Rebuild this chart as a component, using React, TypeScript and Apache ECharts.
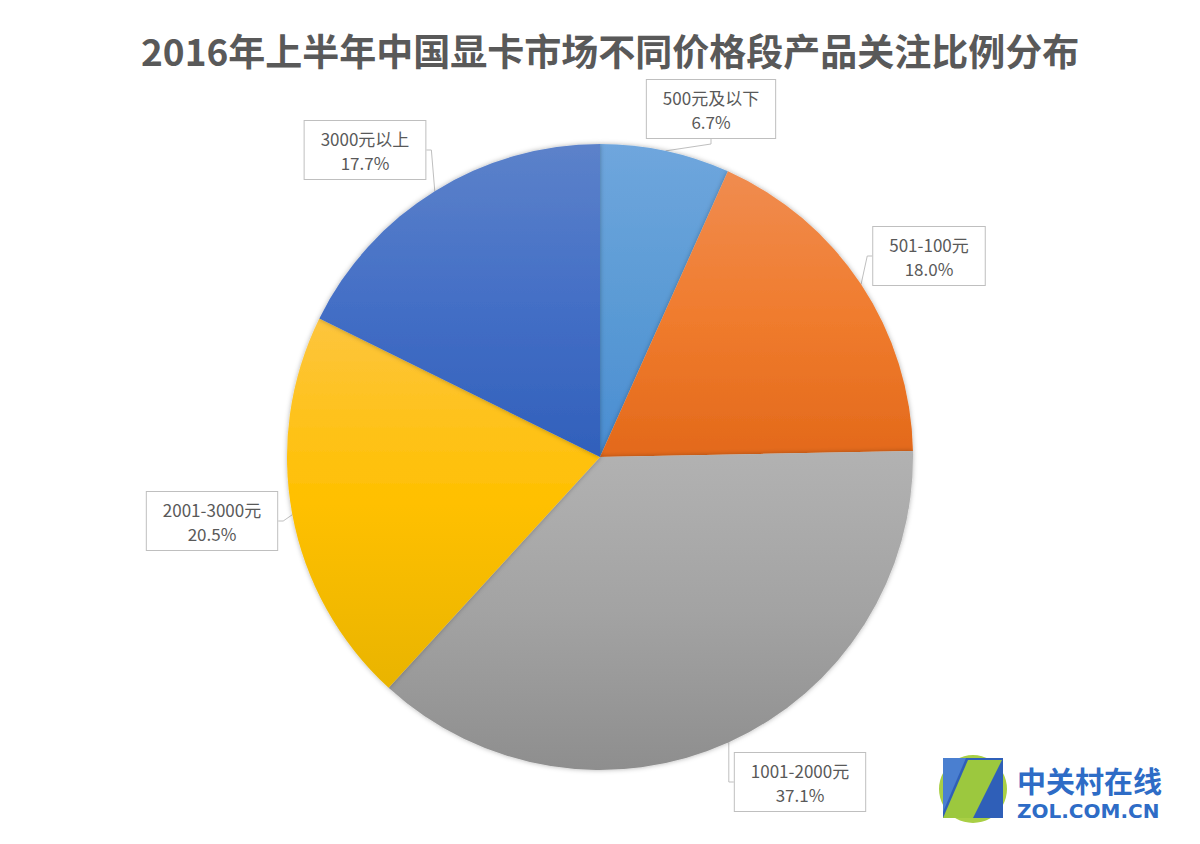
import React, { useEffect, useRef } from "react";
import * as echarts from "echarts";

const titleText = "2016年上半年中国显卡市场不同价格段产品关注比例分布";
const categories = ["500元及以下", "501-100元", "1001-2000元", "2001-3000元", "3000元以上"];
const shares = [6.7, 18.0, 37.1, 20.5, 17.7];
// light, base, dark
const palette = [
  ["#6fa6dd", "#5b9bd5", "#4a8dd2"],
  ["#f08c50", "#f07c2e", "#e3691a"],
  ["#b2b2b2", "#a3a3a3", "#8e8e8e"],
  ["#fdc53e", "#ffc000", "#e9b400"],
  ["#5c82ca", "#446fc6", "#3160bb"],
];
const labelCenters = [
  [711, 109],
  [929, 256],
  [800, 782],
  [212, 521],
  [365, 150],
];

export default function App() {
  const ref = useRef<HTMLDivElement>(null);
  useEffect(() => {
    if (!ref.current) return;
    const chart = echarts.init(ref.current, undefined, { renderer: "svg" });
    const data = categories.map((name, i) => ({
      name,
      value: shares[i],
      itemStyle: {
        color: new echarts.graphic.LinearGradient(0, 0, 0, 1, [
          { offset: 0, color: palette[i][0] },
          { offset: 0.5, color: palette[i][1] },
          { offset: 1, color: palette[i][2] },
        ]),
      },
    }));
    chart.setOption({
      animation: false,
      backgroundColor: "#ffffff",
      title: {
        text: titleText,
        left: 136,
        top: 26,
        textStyle: {
          fontSize: 37,
          fontWeight: "bold",
          color: "#595959",
          fontFamily: "Noto Sans CJK SC",
        },
      },
      series: [
        {
          type: "pie",
          center: [600, 457],
          radius: [0, 313],
          startAngle: 90,
          clockwise: true,
          data,
          itemStyle: {
            shadowBlur: 5,
            shadowColor: "rgba(0,0,0,0.3)",
          },
          label: {
            show: true,
            position: "outside",
            formatter: (p: any) => `${p.name}\n${Number(p.value).toFixed(1)}%`,
            fontSize: 17,
            lineHeight: 24,
            color: "#595959",
            fontFamily: "Noto Sans CJK SC",
            align: "center",
            backgroundColor: "#ffffff",
            borderColor: "#bfbfbf",
            borderWidth: 1,
            padding: [5, 16],
          },
          labelLine: {
            show: true,
            length: 5,
            length2: 5,
            lineStyle: { color: "#bfbfbf", width: 1 },
          },
          labelLayout: (params: any) => {
            const c = labelCenters[params.dataIndex];
            return { x: c[0], y: c[1], align: "center", verticalAlign: "middle" };
          },
        },
      ],
      graphic: [
        { type: "circle", shape: { cx: 973, cy: 789, r: 34 }, style: { fill: "#a9cf45" } },
        { type: "rect", shape: { x: 943, y: 758, width: 60, height: 60 }, style: { fill: "#2f5fb8" } },
        {
          type: "polygon",
          shape: { points: [[968, 760], [1002, 760], [973, 818], [943, 818]] },
          style: { fill: "#9cc83e" },
        },
        {
          type: "polygon",
          shape: { points: [[943, 758], [966, 758], [943, 812]] },
          style: { fill: "#4a7fd0" },
        },
        {
          type: "text",
          x: 1017,
          y: 780,
          style: {
            text: "中关村在线",
            fontSize: 29,
            fontWeight: "bold",
            fill: "#2e6cc6",
            fontFamily: "Noto Sans CJK SC",
            verticalAlign: "middle",
          },
        },
        {
          type: "text",
          x: 1017,
          y: 811,
          style: {
            text: "ZOL.COM.CN",
            fontSize: 20,
            fontWeight: "bold",
            fill: "#2e6cc6",
            fontFamily: "DejaVu Sans",
            verticalAlign: "middle",
          },
        },
      ],
    });
    return () => chart.dispose();
  }, []);
  return (
    <div
      ref={ref}
      style={{ position: "absolute", left: 0, top: 0, width: 1200, height: 844, background: "#fff" }}
    />
  );
}
